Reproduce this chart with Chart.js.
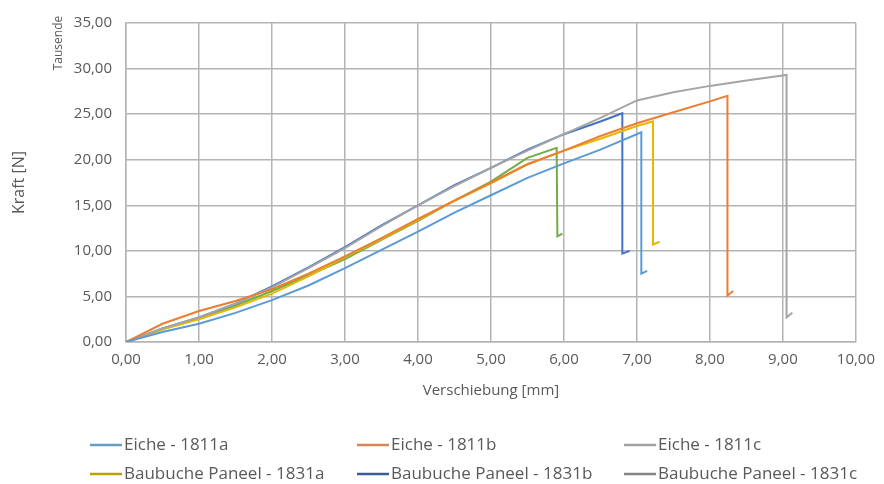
<!DOCTYPE html>
<html>
<head>
<meta charset="utf-8">
<script src="https://cdn.jsdelivr.net/npm/chart.js@4/dist/chart.umd.min.js"></script>
<style>
  html, body { margin: 0; padding: 0; background: #fff; }
  #wrap { width: 884px; height: 484px; }
</style>
</head>
<body>
<div id="wrap"><canvas id="chart"></canvas></div>
<script>
// series labels and colours
var seriesNames = ['Eiche - 1811a', 'Eiche - 1811b', 'Eiche - 1811c',
                   'Baubuche Paneel - 1831a', 'Baubuche Paneel - 1831b', 'Baubuche Paneel - 1831c'];
var lineColors = ['#5B9BD5', '#ED7D31', '#A5A5A5', '#E8B800', '#4472C4', '#70AD47'];
var legendColors = ['#6A9CC0', '#D4875A', '#A0A0A0', '#B8A400', '#3D5C96', '#858585'];

// Verschiebung [mm] / Kraft [kN] per series
var x1811a = [0, 0.5, 1, 1.5, 2, 2.5, 3, 3.5, 4, 4.5, 5, 5.5, 6, 6.5, 7.06, 7.06, 7.14];
var y1811a = [0, 1.1, 2.0, 3.2, 4.6, 6.2, 8.1, 10.1, 12.1, 14.2, 16.1, 18.0, 19.6, 21.1, 23.0, 7.5, 7.8];

var x1811b = [0, 0.5, 1, 1.5, 2, 2.5, 3, 3.5, 4, 4.5, 5, 5.5, 6, 6.5, 7, 7.5, 8, 8.24, 8.24, 8.32];
var y1811b = [0, 2.0, 3.4, 4.5, 5.8, 7.5, 9.4, 11.4, 13.5, 15.5, 17.5, 19.5, 21.0, 22.6, 24.0, 25.2, 26.4, 27.0, 5.1, 5.6];

var x1811c = [0, 0.5, 1, 1.5, 2, 2.5, 3, 3.5, 4, 4.5, 5, 5.5, 6, 6.5, 7, 7.5, 8, 8.5, 9.05, 9.05, 9.13];
var y1811c = [0, 1.5, 2.7, 4.2, 6.0, 8.1, 10.3, 12.7, 15.0, 17.1, 19.1, 21.0, 22.8, 24.6, 26.5, 27.4, 28.1, 28.7, 29.3, 2.7, 3.2];

var x1831a = [0, 0.5, 1, 1.5, 2, 2.5, 3, 3.5, 4, 4.5, 5, 5.5, 6, 6.5, 7, 7.22, 7.22, 7.31];
var y1831a = [0, 1.4, 2.5, 3.8, 5.3, 7.2, 9.3, 11.3, 13.4, 15.5, 17.4, 19.5, 21.0, 22.3, 23.7, 24.2, 10.7, 11.0];

var x1831b = [0, 0.5, 1, 1.5, 2, 2.5, 3, 3.5, 4, 4.5, 5, 5.5, 6, 6.5, 6.8, 6.8, 6.9];
var y1831b = [0, 1.5, 2.7, 4.2, 6.1, 8.2, 10.4, 12.8, 15.0, 17.2, 19.1, 21.1, 22.8, 24.2, 25.1, 9.7, 10.0];

var x1831c = [0, 0.5, 1, 1.5, 2, 2.5, 3, 3.5, 4, 4.5, 5, 5.5, 5.9, 5.91, 5.98];
var y1831c = [0, 1.4, 2.6, 4.0, 5.6, 7.3, 9.1, 11.2, 13.3, 15.5, 17.6, 20.2, 21.3, 11.6, 11.9];

var xs = [x1811a, x1811b, x1811c, x1831a, x1831b, x1831c];
var ys = [y1811a, y1811b, y1811c, y1831a, y1831b, y1831c];

function fmt(v) { return v.toFixed(2).replace('.', ','); }

var datasets = seriesNames.map(function (name, i) {
  return {
    label: name,
    data: xs[i].map(function (x, j) { return { x: x, y: ys[i][j] }; }),
    borderColor: lineColors[i],
    borderWidth: 2,
    pointRadius: 0,
    tension: 0,
    fill: false
  };
});

var font = '"Open Sans", sans-serif';
var textColor = '#595959';

// "Tausende" unit label and the 3-column legend
var extras = {
  id: 'extras',
  afterDraw: function (chart) {
    var c = chart.ctx;
    c.save();
    c.fillStyle = textColor;
    c.font = '12px ' + font;
    c.translate(59, 43);
    c.rotate(-Math.PI / 2);
    c.textAlign = 'center';
    c.textBaseline = 'middle';
    c.fillText('Tausende', 0, 0);
    c.restore();

    var cols = [90, 357, 624], rows = [445, 474];
    c.save();
    c.font = '17px ' + font;
    c.textBaseline = 'middle';
    c.textAlign = 'left';
    chart.data.datasets.forEach(function (ds, i) {
      var x = cols[i % 3], y = rows[Math.floor(i / 3)];
      c.strokeStyle = legendColors[i];
      c.lineWidth = 2.5;
      c.beginPath();
      c.moveTo(x, y);
      c.lineTo(x + 32, y);
      c.stroke();
      c.fillStyle = textColor;
      c.fillText(ds.label, x + 34, y);
    });
    c.restore();
  }
};

new Chart(document.getElementById('chart'), {
  type: 'line',
  data: { datasets: datasets },
  plugins: [extras],
  options: {
    responsive: true,
    maintainAspectRatio: false,
    animation: false,
    layout: { padding: { top: 18, right: 8, bottom: 80, left: 0 } },
    plugins: {
      legend: { display: false },
      tooltip: { enabled: false }
    },
    scales: {
      x: {
        type: 'linear',
        min: 0,
        max: 10,
        afterFit: function (s) { s.height = 62; },
        ticks: { stepSize: 1, color: textColor, font: { family: font, size: 15 }, padding: 9, maxRotation: 0,
                 callback: function (v) { return fmt(v); } },
        grid: { color: '#B4B4B4', lineWidth: 1.5, drawTicks: false },
        border: { color: '#B4B4B4', width: 1.5 },
        title: { display: true, text: 'Verschiebung [mm]', color: textColor, font: { family: font, size: 15 }, padding: { top: 4 } }
      },
      y: {
        min: 0,
        max: 35,
        afterFit: function (s) { s.width = 126; },
        ticks: { stepSize: 5, color: textColor, font: { family: font, size: 15 }, padding: 14,
                 callback: function (v) { return fmt(v); } },
        grid: { color: '#B4B4B4', lineWidth: 1.5, drawTicks: false },
        border: { color: '#B4B4B4', width: 1.5 },
        title: { display: true, text: 'Kraft [N]', color: textColor, font: { family: font, size: 16 }, padding: { top: 10, bottom: 0 } }
      }
    }
  }
});
</script>
</body>
</html>
